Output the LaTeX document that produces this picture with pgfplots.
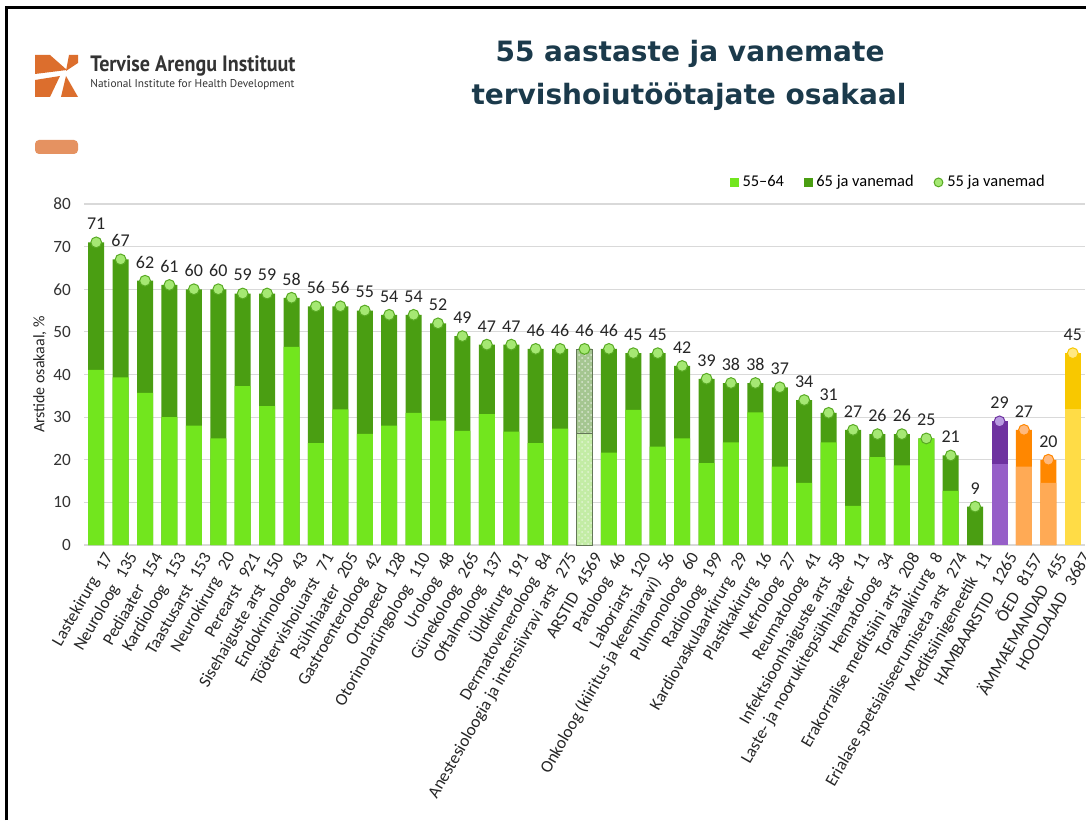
\documentclass[border=0pt]{standalone}
\usepackage{pgfplots}
\pgfplotsset{compat=1.18}
\usepackage{pgfplotstable}
\usepackage{graphicx}
\usepackage{fontspec}
\setmainfont{Carlito}
\newfontfamily\titlefont{DejaVu Sans}
\newfontfamily\logofont{PT Sans}
\usetikzlibrary{patterns}

\definecolor{lg}{RGB}{114,230,30}
\definecolor{dg}{RGB}{74,158,18}
\definecolor{cf}{RGB}{165,232,115}
\definecolor{cd}{RGB}{88,170,35}
\definecolor{alg}{RGB}{195,236,165}
\definecolor{adg}{RGB}{165,198,145}
\definecolor{pl}{RGB}{150,95,200}
\definecolor{pd}{RGB}{110,50,160}
\definecolor{pc}{RGB}{185,155,225}
\definecolor{ol}{RGB}{255,170,85}
\definecolor{od}{RGB}{255,135,0}
\definecolor{oc}{RGB}{255,185,125}
\definecolor{yl}{RGB}{255,220,70}
\definecolor{yd}{RGB}{248,200,0}
\definecolor{yc}{RGB}{255,232,130}
\definecolor{titlec}{RGB}{27,58,75}
\definecolor{logoc}{RGB}{220,110,45}

\pgfplotstableread{
x total light
0 71 41.1
1 67 39.3
2 62 35.7
3 61 30.0
4 60 28.0
5 60 25.0
6 59 37.3
7 59 32.6
8 58 46.5
9 56 23.9
10 56 31.8
11 55 26.1
12 54 28.0
13 54 31.0
14 52 29.2
15 49 26.8
16 47 30.7
17 47 26.6
18 46 23.9
19 46 27.3
21 46 21.7
22 45 31.7
23 45 23.1
24 42 25.0
25 39 19.2
26 38 24.1
27 38 31.1
28 37 18.4
29 34 14.6
30 31 24.1
31 27 9.2
32 26 20.6
33 26 18.7
34 25 25.0
35 21 12.7
36 9 0
}\green
\pgfplotstableread{
x total light
20 46 26.2
}\arst
\pgfplotstableread{
x total light
37 29 19.0
}\purp
\pgfplotstableread{
x total light
38 27 18.4
39 20 14.6
}\oran
\pgfplotstableread{
x total light
40 45 31.9
}\yell

\begin{document}
\begin{tikzpicture}[x=0.5pt,y=0.5pt]
\fill[white] (0,0) rectangle (1086,820);
\path[use as bounding box] (0,0) rectangle (1086,820);
\draw[line width=1.5pt,black] (6,0) -- (6,812) -- (1086,812);

% logo
\fill[logoc] (35,765) -- (50,765) -- (67,750) -- (35,746) -- cycle;
\fill[logoc] (69,765) -- (78,765) -- (78,757) -- (66,749) -- cycle;
\fill[logoc] (35,740) -- (60,744) -- (50,723) -- (35,723) -- cycle;
\fill[logoc] (66,744) -- (78,723) -- (61,723) -- cycle;
\node[anchor=base west, inner sep=0pt, text=black!80, font=\logofont\bfseries\fontsize{11}{12}\selectfont] at (90,748) {\resizebox{102.5pt}{7.9pt}{Tervise Arengu Instituut}};
\node[anchor=base west, inner sep=0pt, text=black!80, font=\logofont\fontsize{6}{7}\selectfont] at (90,732) {\resizebox{102pt}{!}{National Institute for Health Development}};
\fill[logoc!75!white, rounded corners=2pt] (35,666) rectangle (78,680);

% title
\node[anchor=base, inner sep=0pt, text=titlec, font=\titlefont\bfseries\fontsize{14}{16}\selectfont] at (690,758) {55 aastaste ja vanemate};
\node[anchor=base, inner sep=0pt, text=titlec, font=\titlefont\bfseries\fontsize{14}{16}\selectfont] at (689,715) {tervishoiutöötajate osakaal};

\begin{axis}[
  at={(42pt,137.5pt)}, anchor=south west,
  scale only axis, width=500.5pt, height=170.5pt,
  xmin=-0.5, xmax=40.5, ymin=0, ymax=80,
  ytick={0,10,...,80},
  xtick={0,...,40},
  /pgf/number format/assume math mode=true,
  xticklabels={
    {Lastekirurg\hspace{0.6em}17},
    {Neuroloog\hspace{0.6em}135},
    {Pediaater\hspace{0.6em}154},
    {Kardioloog\hspace{0.6em}153},
    {Taastusarst\hspace{0.6em}153},
    {Neurokirurg\hspace{0.6em}20},
    {Perearst\hspace{0.6em}921},
    {Sisehaiguste arst\hspace{0.6em}150},
    {Endokrinoloog\hspace{0.6em}43},
    {Töötervishoiuarst\hspace{0.6em}71},
    {Psühhiaater\hspace{0.6em}205},
    {Gastroenteroloog\hspace{0.6em}42},
    {Ortopeed\hspace{0.6em}128},
    {Otorinolarüngoloog\hspace{0.6em}110},
    {Uroloog\hspace{0.6em}48},
    {Günekoloog\hspace{0.6em}265},
    {Oftalmoloog\hspace{0.6em}137},
    {Üldkirurg\hspace{0.6em}191},
    {Dermatoveneroloog\hspace{0.6em}84},
    {Anestesioloogia ja intensiivravi arst\hspace{0.6em}275},
    {ARSTID\hspace{0.6em}4569},
    {Patoloog\hspace{0.6em}46},
    {Laboriarst\hspace{0.6em}120},
    {Onkoloog (kiiritus ja keemiaravi)\hspace{0.6em}56},
    {Pulmonoloog\hspace{0.6em}60},
    {Radioloog\hspace{0.6em}199},
    {Kardiovaskulaarkirurg\hspace{0.6em}29},
    {Plastikakirurg\hspace{0.6em}16},
    {Nefroloog\hspace{0.6em}27},
    {Reumatoloog\hspace{0.6em}41},
    {Infektsioonhaiguste arst\hspace{0.6em}58},
    {Laste- ja noorukitepsühhiaater\hspace{0.6em}11},
    {Hematoloog\hspace{0.6em}34},
    {Erakorralise meditsiini arst\hspace{0.6em}208},
    {Torakaalkirurg\hspace{0.6em}8},
    {Erialase spetsialiseerumiseta arst\hspace{0.6em}274},
    {Meditsiinigeneetik\hspace{0.6em}11},
    {HAMBAARSTID\hspace{0.6em}1265},
    {ÕED\hspace{0.6em}8157},
    {ÄMMAEMANDAD\hspace{0.6em}455},
    {HOOLDAJAD\hspace{0.6em}3687}
  },
  xticklabel style={rotate=60, anchor=east, inner sep=0pt, yshift=-8pt, xshift=-0.5pt,
    font=\fontsize{8.6}{10}\selectfont, text=black!85},
  yticklabel style={font=\fontsize{8.6}{10}\selectfont, text=black!80, xshift=-3pt},
  ylabel={Arstide osakaal, \%},
  ylabel style={at={(axis description cs:-0.044,0.5)}, anchor=center, font=\fontsize{8}{10}\selectfont, text=black!85},
  ymajorgrids, grid style={draw=black!15, line width=0.6pt},
  axis line style={draw=none}, tick style={draw=none},
  clip=false,
  legend columns=3,
  legend cell align=left,
  legend style={at={(1,1)}, anchor=south east, xshift=-18pt, yshift=5pt, draw=none, fill=none,
    font=\fontsize{8.2}{10}\selectfont, inner sep=0pt,
    /tikz/every even column/.append style={column sep=8pt}},
]
\addlegendimage{legend image code/.code={\fill[lg] (0pt,-1.9pt) rectangle (3.8pt,1.9pt);}}
\addlegendentry{55–64}
\addlegendimage{legend image code/.code={\fill[dg] (0pt,-1.9pt) rectangle (3.8pt,1.9pt);}}
\addlegendentry{65 ja vanemad}
\addlegendimage{legend image code/.code={\draw[fill=cf,draw=cd,line width=0.5pt] (2.2pt,0pt) circle (2.2pt);}}
\addlegendentry{55 ja vanemad}

% green bars
\addplot[ybar, bar width=8pt, bar shift=0pt, fill=dg, draw=none, forget plot] table[x=x,y=total]{\green};
\addplot[ybar, bar width=8pt, bar shift=0pt, fill=lg, draw=none, forget plot] table[x=x,y=light]{\green};
% ARSTID
\addplot[ybar, bar width=8pt, bar shift=0pt, fill=adg, draw=adg!60!black, line width=0.4pt,
  postaction={pattern=crosshatch dots, pattern color=white!60!adg}, forget plot] table[x=x,y=total]{\arst};
\addplot[ybar, bar width=8pt, bar shift=0pt, fill=alg, draw=adg!60!black, line width=0.4pt,
  postaction={pattern=crosshatch dots, pattern color=white!50!alg}, forget plot] table[x=x,y=light]{\arst};
% purple
\addplot[ybar, bar width=8pt, bar shift=0pt, fill=pd, draw=none, forget plot] table[x=x,y=total]{\purp};
\addplot[ybar, bar width=8pt, bar shift=0pt, fill=pl, draw=none, forget plot] table[x=x,y=light]{\purp};
% orange
\addplot[ybar, bar width=8pt, bar shift=0pt, fill=od, draw=none, forget plot] table[x=x,y=total]{\oran};
\addplot[ybar, bar width=8pt, bar shift=0pt, fill=ol, draw=none, forget plot] table[x=x,y=light]{\oran};
% yellow
\addplot[ybar, bar width=8pt, bar shift=0pt, fill=yd, draw=none, forget plot] table[x=x,y=total]{\yell};
\addplot[ybar, bar width=8pt, bar shift=0pt, fill=yl, draw=none, forget plot] table[x=x,y=light]{\yell};

% markers + labels
\pgfplotsset{lblstyle/.style={nodes near coords, point meta=y,
  nodes near coords style={anchor=south, yshift=5pt, inner sep=1pt, font=\fontsize{9}{10}\selectfont, text=black!85,
  /pgf/number format/assume math mode=true}}}
\addplot[only marks, mark=*, mark size=2.7pt, mark options={fill=cf, draw=cd, line width=0.5pt}, lblstyle, forget plot] table[x=x,y=total]{\green};
\addplot[only marks, mark=*, mark size=2.7pt, mark options={fill=cf, draw=cd, line width=0.5pt}, lblstyle, forget plot] table[x=x,y=total]{\arst};
\addplot[only marks, mark=*, mark size=2.7pt, mark options={fill=pc, draw=pd, line width=0.5pt}, lblstyle, forget plot] table[x=x,y=total]{\purp};
\addplot[only marks, mark=*, mark size=2.7pt, mark options={fill=oc, draw=od, line width=0.5pt}, lblstyle, forget plot] table[x=x,y=total]{\oran};
\addplot[only marks, mark=*, mark size=2.7pt, mark options={fill=yc, draw=yd, line width=0.5pt}, lblstyle, forget plot] table[x=x,y=total]{\yell};
\end{axis}
\end{tikzpicture}
\end{document}
